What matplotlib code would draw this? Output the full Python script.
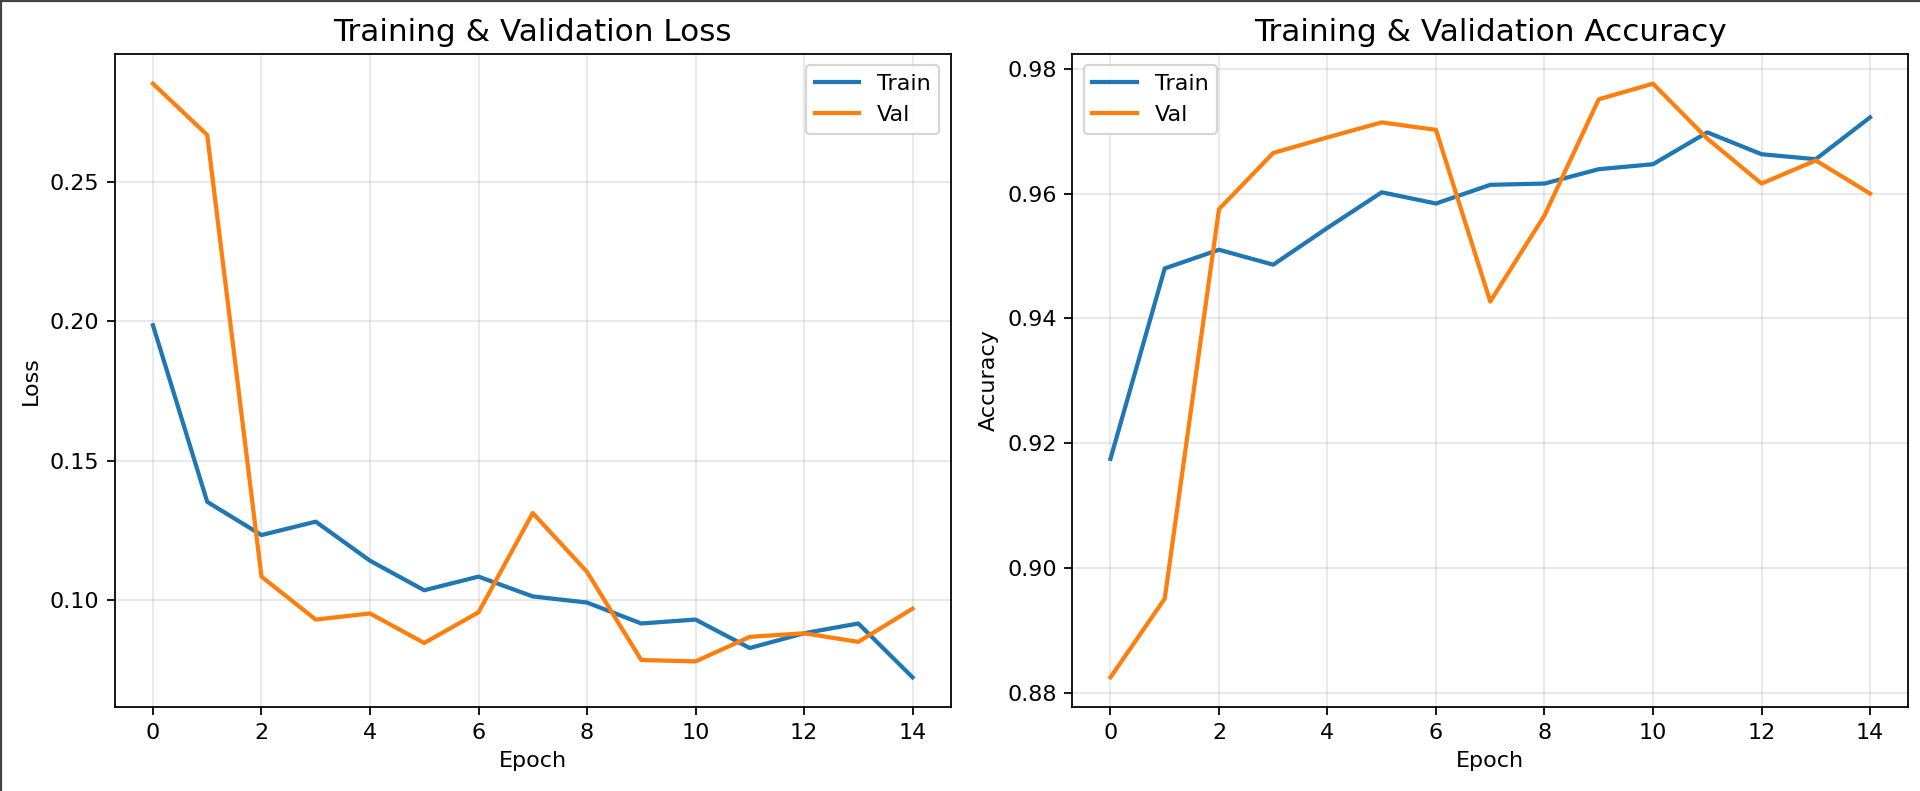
import matplotlib
matplotlib.use("Agg")
import matplotlib.pyplot as plt
from matplotlib.lines import Line2D

epochs = list(range(15))

train_loss = [0.1985, 0.1352, 0.1233, 0.1281, 0.1141, 0.1035, 0.1084, 0.1013,
              0.0991, 0.0916, 0.0930, 0.0828, 0.0881, 0.0916, 0.0723]
val_loss = [0.2851, 0.2667, 0.1084, 0.0930, 0.0952, 0.0846, 0.0956, 0.1312,
            0.1101, 0.0785, 0.0780, 0.0868, 0.0881, 0.0850, 0.0969]

train_acc = [0.9175, 0.9480, 0.9510, 0.9486, 0.9545, 0.9602, 0.9584, 0.9614,
             0.9616, 0.9639, 0.9647, 0.9698, 0.9663, 0.9655, 0.9722]
val_acc = [0.8825, 0.8951, 0.9575, 0.9665, 0.9690, 0.9714, 0.9702, 0.9427,
           0.9565, 0.9751, 0.9776, 0.9688, 0.9616, 0.9653, 0.9600]

fig, (ax1, ax2) = plt.subplots(1, 2, figsize=(12, 791 / 160), dpi=160)
fig.subplots_adjust(left=115 / 1920, right=1908 / 1920,
                    top=1 - 54 / 791, bottom=1 - 707 / 791, wspace=0.146)

lw = 1.9

#Loss
ax1.plot(epochs, train_loss, label="Train", lw=lw)
ax1.plot(epochs, val_loss, label="Val", lw=lw)
ax1.set_title("Training & Validation Loss", fontsize=14)
ax1.set_xlabel("Epoch")
ax1.set_ylabel("Loss")
ax1.legend(loc="upper right")
ax1.grid(True, alpha=0.3)

#Accuracy
ax2.plot(epochs, train_acc, label="Train", lw=lw)
ax2.plot(epochs, val_acc, label="Val", lw=lw)
ax2.set_title("Training & Validation Accuracy", fontsize=14)
ax2.set_xlabel("Epoch")
ax2.set_ylabel("Accuracy")
ax2.legend(loc="upper left")
ax2.grid(True, alpha=0.3)

#Screenshot border on top and left edges
fig.add_artist(Line2D([0, 1], [0.999, 0.999], transform=fig.transFigure, color="#444444", lw=1))
fig.add_artist(Line2D([0.0005, 0.0005], [0, 1], transform=fig.transFigure, color="#444444", lw=1))

fig.savefig("out.png", dpi=160)
